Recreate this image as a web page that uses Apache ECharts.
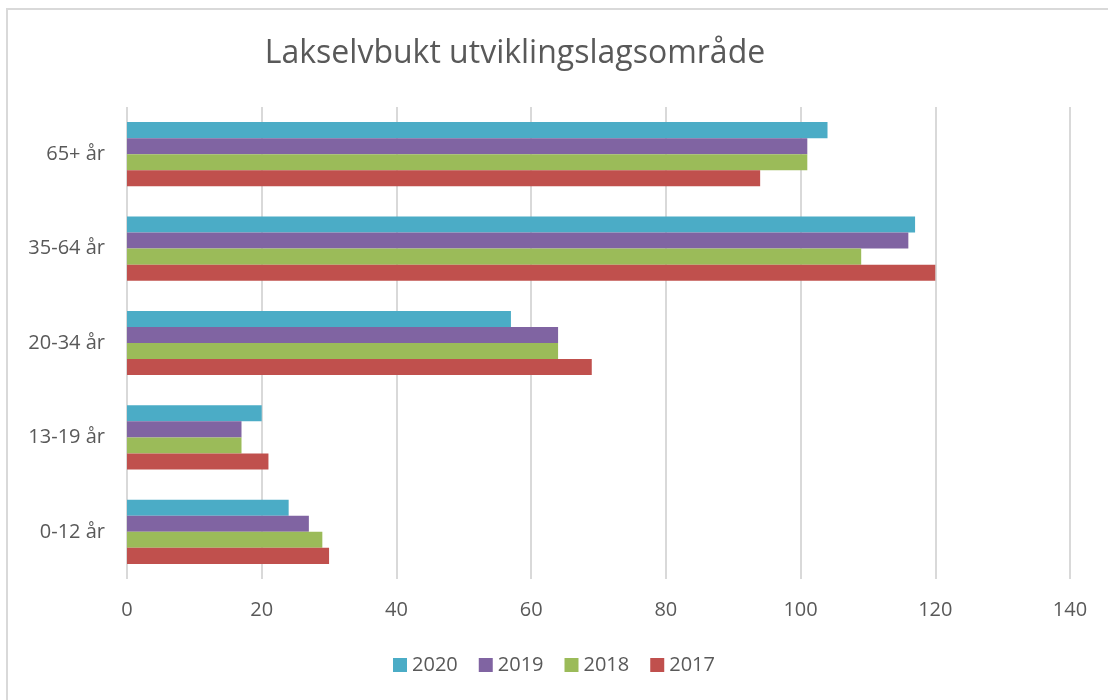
<!DOCTYPE html>
<html>
<head>
<meta charset="utf-8">
<script src="https://cdn.jsdelivr.net/npm/echarts@6/dist/echarts.min.js"></script>
<style>
  html, body { margin: 0; padding: 0; background: #fff; }
  #frame { position: absolute; left: 6px; top: 8px; width: 1200px; height: 800px; border: 2px solid #d9d9d9; }
  #chart { position: absolute; left: 0; top: 0; width: 1108px; height: 700px; }
</style>
</head>
<body>
<div id="frame"></div>
<div id="chart"></div>
<script>
  // kategorier (nederst til øverst)
  const categories = ['0-12 år', '13-19 år', '20-34 år', '35-64 år', '65+ år']
  const years = ['2020', '2019', '2018', '2017']
  const v2020 = [24, 20, 57, 117, 104]
  const v2019 = [27, 17, 64, 116, 101]
  const v2018 = [29, 17, 64, 109, 101]
  const v2017 = [30, 21, 69, 120, 94]
  const colors = ['#4bacc6', '#8064a2', '#9bbb59', '#c0504d']

  const chartDom = document.getElementById('chart')
  const myChart = echarts.init(chartDom)
  const font = 'Open Sans'
  const values = [v2020, v2019, v2018, v2017]

  const option = {
      animation: false,
      title: {
          text: 'Lakselvbukt utviklingslagsområde',
          left: 510,
          textAlign: 'center',
          top: 33,
          textStyle: { fontFamily: font, fontSize: 32, fontWeight: 'normal', color: '#595959' }
      },
      legend: {
          data: years,
          top: 650,
          left: 'center',
          itemWidth: 14,
          itemHeight: 14,
          itemGap: 21,
          icon: 'rect',
          textStyle: { fontFamily: font, fontSize: 20, color: '#595959' }
      },
      grid: { left: 127, right: 38, top: 107, bottom: 121 },
      xAxis: {
          type: 'value',
          min: 0,
          max: 140,
          interval: 20,
          axisLine: { show: false },
          axisTick: { show: false },
          splitLine: { lineStyle: { color: '#d9d9d9', width: 2 } },
          axisLabel: { fontFamily: font, fontSize: 20, color: '#595959', margin: 21 }
      },
      yAxis: {
          type: 'category',
          data: categories,
          axisLine: { show: false },
          axisTick: { show: false },
          axisLabel: { fontFamily: font, fontSize: 20, color: '#595959', margin: 22 }
      },
      series: years.map((y, i) => ({
          name: y,
          type: 'bar',
          data: values[i],
          itemStyle: { color: colors[i] },
          barGap: '0%',
          barCategoryGap: '32%'
      }))
  }

  myChart.setOption(option)
</script>
</body>
</html>
